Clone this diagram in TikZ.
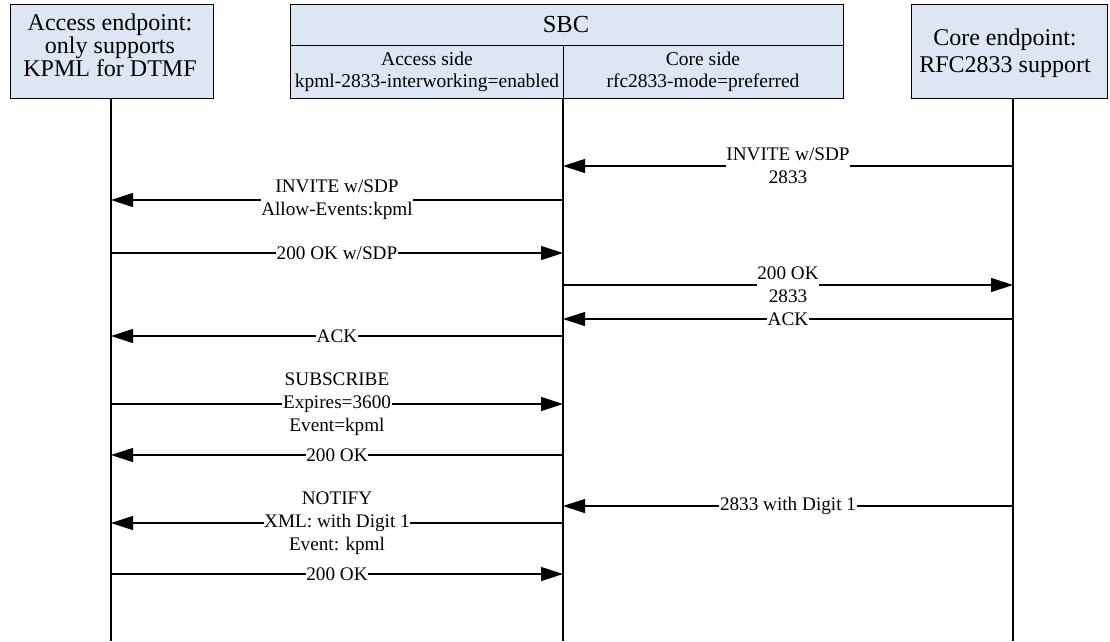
\documentclass[tikz,border=0pt]{standalone}
\usepackage{fontspec}
\setmainfont{Liberation Serif}
\usetikzlibrary{arrows.meta}
\definecolor{boxfill}{RGB}{221,230,243}
\begin{document}
\begin{tikzpicture}[x=1pt,y=-1pt,
  box/.style={draw, fill=boxfill, line width=0.9pt, inner sep=0pt},
  boxtext/.style={align=center, inner sep=0pt},
  life/.style={line width=1.1pt},
  msg/.style={line width=1.1pt, -{Triangle[length=22pt,width=14pt]}},
  lbl/.style={fill=white, inner sep=0.6pt, align=center, font=\fontsize{19.2}{23}\selectfont}]
\useasboundingbox (0,0) rectangle (1110,641);
% boxes
\node[box, minimum width=203pt, minimum height=94pt] (acc) at (111.5,51) {};
\node[boxtext, font=\fontsize{24}{20}\selectfont] (accT) at (110,45) {Access endpoint:\\only supports\\KPML for DTMF};
\node[box, minimum width=553pt, minimum height=94pt] (sbc) at (566.5,51) {};
\coordinate (div) at (0,45);
\coordinate (sbcL) at (563,98);
\draw[line width=0.9pt] (sbc.west |- div) -- (sbc.east |- div);
\draw[line width=0.9pt] (sbcL |- div) -- (sbcL);
\node[boxtext, font=\fontsize{24.5}{26}\selectfont] (sbcT) at (566,25) {SBC};
\node[boxtext, font=\fontsize{19.5}{22.5}\selectfont] (accSide) at (427,72) {Access side\\kpml-2833-interworking=enabled};
\node[boxtext, font=\fontsize{19.5}{22.5}\selectfont] (coreSide) at (703,72) {Core side\\rfc2833-mode=preferred};
\node[box, minimum width=196pt, minimum height=94pt] (core) at (1009,51) {};
\node[boxtext, font=\fontsize{24}{26.5}\selectfont] (coreT) at (1005,53) {Core endpoint:\\RFC2833 support};
% lifelines
\coordinate (accL) at (111,98);
\coordinate (coreL) at (1013,98);
\coordinate (accB) at (111,641);
\coordinate (sbcB) at (563,641);
\coordinate (coreB) at (1013,641);
\draw[life] (accL) -- (accB);
\draw[life] (sbcL) -- (sbcB);
\draw[life] (coreL) -- (coreB);
% message rows
\coordinate (m1) at (0,166);
\coordinate (m2) at (0,200);
\coordinate (m3) at (0,253);
\coordinate (m4) at (0,285);
\coordinate (m5) at (0,319);
\coordinate (m6) at (0,336);
\coordinate (m7) at (0,404);
\coordinate (m8) at (0,455);
\coordinate (m9) at (0,523);
\coordinate (m10) at (0,506);
\coordinate (m11) at (0,574);
\draw[msg] (coreL |- m1) -- node[lbl]{INVITE w/SDP\\2833} (sbcL |- m1);
\draw[msg] (sbcL |- m2) -- node[lbl]{INVITE w/SDP\\Allow-Events:kpml} (accL |- m2);
\draw[msg] (accL |- m3) -- node[lbl]{200 OK w/SDP} (sbcL |- m3);
\draw[msg] (sbcL |- m4) -- node[lbl]{200 OK\\2833} (coreL |- m4);
\draw[msg] (coreL |- m5) -- node[lbl]{ACK} (sbcL |- m5);
\draw[msg] (sbcL |- m6) -- node[lbl]{ACK} (accL |- m6);
\draw[msg] (accL |- m7) -- node[lbl]{SUBSCRIBE\\Expires=3600\\Event=kpml} (sbcL |- m7);
\draw[msg] (sbcL |- m8) -- node[lbl]{200 OK} (accL |- m8);
\draw[msg] (coreL |- m10) -- node[lbl]{2833 with Digit 1} (sbcL |- m10);
\draw[msg] (sbcL |- m9) -- node[lbl]{NOTIFY\\XML: with Digit 1\\Event: kpml} (accL |- m9);
\draw[msg] (accL |- m11) -- node[lbl]{200 OK} (sbcL |- m11);
\end{tikzpicture}
\end{document}
